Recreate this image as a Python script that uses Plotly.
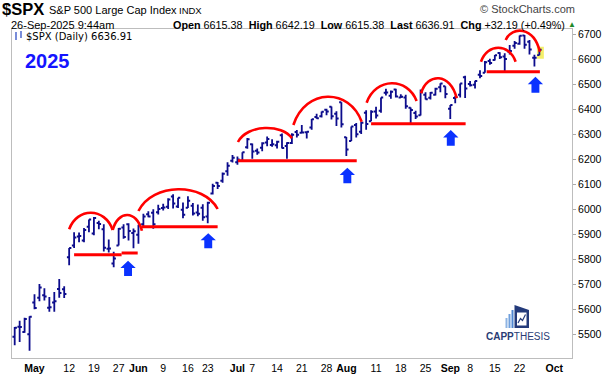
import numpy as np
import plotly.graph_objects as go

# ---------------- data (S&P 500 daily OHLC) ----------------
dates = [
    "2025-04-25", "2025-04-28", "2025-04-29", "2025-04-30",
    "2025-05-01", "2025-05-02", "2025-05-05", "2025-05-06", "2025-05-07", "2025-05-08", "2025-05-09",
    "2025-05-12", "2025-05-13", "2025-05-14", "2025-05-15", "2025-05-16",
    "2025-05-19", "2025-05-20", "2025-05-21", "2025-05-22", "2025-05-23",
    "2025-05-27", "2025-05-28", "2025-05-29", "2025-05-30",
    "2025-06-02", "2025-06-03", "2025-06-04", "2025-06-05", "2025-06-06",
    "2025-06-09", "2025-06-10", "2025-06-11", "2025-06-12", "2025-06-13",
    "2025-06-16", "2025-06-17", "2025-06-18", "2025-06-20",
    "2025-06-23", "2025-06-24", "2025-06-25", "2025-06-26", "2025-06-27",
    "2025-06-30", "2025-07-01", "2025-07-02", "2025-07-03",
    "2025-07-07", "2025-07-08", "2025-07-09", "2025-07-10", "2025-07-11",
    "2025-07-14", "2025-07-15", "2025-07-16", "2025-07-17", "2025-07-18",
    "2025-07-21", "2025-07-22", "2025-07-23", "2025-07-24", "2025-07-25",
    "2025-07-28", "2025-07-29", "2025-07-30", "2025-07-31", "2025-08-01",
    "2025-08-04", "2025-08-05", "2025-08-06", "2025-08-07", "2025-08-08",
    "2025-08-11", "2025-08-12", "2025-08-13", "2025-08-14", "2025-08-15",
    "2025-08-18", "2025-08-19", "2025-08-20", "2025-08-21", "2025-08-22",
    "2025-08-25", "2025-08-26", "2025-08-27", "2025-08-28", "2025-08-29",
    "2025-09-02", "2025-09-03", "2025-09-04", "2025-09-05",
    "2025-09-08", "2025-09-09", "2025-09-10", "2025-09-11", "2025-09-12",
    "2025-09-15", "2025-09-16", "2025-09-17", "2025-09-18", "2025-09-19",
    "2025-09-22", "2025-09-23", "2025-09-24", "2025-09-25", "2025-09-26",
]
opens = [
    5489, 5529, 5508, 5499,
    5626, 5645, 5655, 5605, 5626, 5680, 5679,
    5807, 5854, 5890, 5874, 5929,
    5902, 5944, 5919, 5841, 5782,
    5854, 5926, 5939, 5904,
    5897, 5939, 5979, 5985, 5987,
    6004, 6009, 6050, 6010, 5997,
    6005, 6013, 5986, 6005,
    5970, 6062, 6105, 6113, 6151,
    6193, 6187, 6193, 6247,
    6259, 6233, 6245, 6266, 6256,
    6255, 6295, 6252, 6264, 6308,
    6305, 6307, 6326, 6368, 6371,
    6397, 6409, 6381, 6427, 6287,
    6272, 6336, 6309, 6385, 6351,
    6390, 6393, 6465, 6453, 6478,
    6446, 6446, 6405, 6384, 6375,
    6457, 6445, 6457, 6487, 6491,
    6401, 6444, 6457, 6527,
    6500, 6497, 6537, 6545, 6592,
    6596, 6624, 6610, 6629, 6653,
    6661, 6694, 6669, 6605, 6615.38,
]
highs = [
    5528, 5553, 5565, 5571,
    5659, 5700, 5683, 5648, 5668, 5720, 5691,
    5844, 5907, 5906, 5924, 5958,
    5968, 5953, 5939, 5878, 5829,
    5924, 5939, 5943, 5922,
    5937, 5981, 5991, 5999, 6017,
    6021, 6043, 6059, 6045, 6026,
    6051, 6024, 6018, 6019,
    6029, 6101, 6108, 6146, 6187,
    6216, 6210, 6227, 6284,
    6262, 6242, 6267, 6290, 6279,
    6273, 6302, 6267, 6303, 6316,
    6336, 6310, 6360, 6381, 6390,
    6401, 6410, 6391, 6427, 6288,
    6330, 6344, 6349, 6395, 6395,
    6409, 6446, 6481, 6474, 6481,
    6459, 6457, 6406, 6393, 6478,
    6467, 6468, 6485, 6503, 6491,
    6416, 6452, 6502, 6533,
    6512, 6513, 6555, 6592, 6601,
    6616, 6627, 6623, 6656, 6672,
    6694, 6696, 6676, 6617, 6642.19,
]
lows = [
    5455, 5468, 5505, 5433,
    5599, 5631, 5634, 5589, 5589, 5645, 5644,
    5775, 5844, 5867, 5867, 5907,
    5895, 5919, 5830, 5826, 5767,
    5854, 5881, 5874, 5843,
    5861, 5930, 5967, 5921, 5978,
    5994, 6000, 6002, 6004, 5963,
    6004, 5974, 5971, 5953,
    5943, 6058, 6080, 6105, 6133,
    6186, 6177, 6188, 6241,
    6201, 6217, 6231, 6251, 6249,
    6242, 6242, 6201, 6260, 6286,
    6303, 6282, 6317, 6361, 6366,
    6375, 6358, 6332, 6326, 6212,
    6272, 6286, 6300, 6317, 6351,
    6362, 6385, 6454, 6441, 6446,
    6444, 6401, 6343, 6360, 6374,
    6438, 6438, 6454, 6467, 6443,
    6360, 6423, 6446, 6444,
    6490, 6482, 6523, 6545, 6577,
    6594, 6600, 6551, 6618, 6641,
    6657, 6641, 6618, 6570, 6615.38,
]
closes = [
    5525, 5528, 5560, 5569,
    5604, 5686, 5650, 5607, 5631, 5664, 5660,
    5844, 5886, 5892, 5916, 5958,
    5964, 5940, 5845, 5842, 5802,
    5921, 5888, 5912, 5911,
    5936, 5970, 5970, 5939, 6000,
    6006, 6038, 6022, 6045, 5977,
    6033, 5982, 5981, 5967,
    6025, 6092, 6092, 6141, 6173,
    6205, 6198, 6227, 6279,
    6230, 6226, 6263, 6280, 6259,
    6269, 6244, 6264, 6297, 6297,
    6306, 6309, 6359, 6363, 6389,
    6390, 6371, 6362, 6339, 6238,
    6330, 6299, 6345, 6340, 6389,
    6374, 6446, 6466, 6469, 6450,
    6449, 6411, 6396, 6370, 6467,
    6439, 6465, 6481, 6502, 6460,
    6416, 6448, 6502, 6482,
    6495, 6512, 6532, 6587, 6584,
    6615, 6607, 6600, 6632, 6664,
    6693, 6657, 6638, 6605, 6636.91,
]

holidays = ["2025-05-26", "2025-06-19", "2025-07-04", "2025-09-01"]

tick_dates = ["2025-05-01", "2025-05-12", "2025-05-19", "2025-05-27", "2025-06-02", "2025-06-09",
              "2025-06-16", "2025-06-23", "2025-07-01", "2025-07-07", "2025-07-14", "2025-07-21",
              "2025-07-28", "2025-08-01", "2025-08-11", "2025-08-18", "2025-08-25", "2025-09-02",
              "2025-09-08", "2025-09-15", "2025-09-22", "2025-10-01"]
tick_labels = ["May", "12", "19", "27", "Jun", "9", "16", "23", "Jul", "7", "14", "21", "28",
               "Aug", "11", "18", "25", "Sep", "8", "15", "22", "Oct"]
month_labels = {"May", "Jun", "Jul", "Aug", "Sep", "Oct"}

y_ticks = [5500, 5600, 5700, 5800, 5900, 6000, 6100, 6200, 6300, 6400, 6500, 6600, 6700]

# hand-drawn annotations (trading-day index, price)
arc_starts = [(11.0, 5919), (19.8, 5916), (25.0, 5992), (45.1, 6268), (56.3, 6336),
              (71.1, 6425), (82.1, 6463), (94.2, 6589), (99.2, 6676)]
arc_peaks = [5985, 5976, 6079, 6324, 6449, 6503, 6523, 6645, 6712]
arc_ends = [(19.8, 5916), (25.7, 5913), (41.0, 6000), (56.0, 6283), (70.1, 6349),
            (81.2, 6432), (89.3, 6443), (101.2, 6589), (106.1, 6629)]
support_from = [12.0, 21.6, 25.7, 45.1, 72.0, 95.35]
support_to = [21.6, 24.85, 41.0, 69.1, 91.1, 106.1]
support_level = [5817, 5824, 5929, 6193, 6341, 6549]
arrow_x = [22.9, 39.1, 67.2, 88.1, 105.2]
arrow_top = [5793, 5903, 6165, 6316, 6529]
arrow_bottom = [5732, 5843, 6103, 6253, 6465]

# ---------------- build ----------------
start = dates[0]


def tday(d):
    return int(np.busday_count(start, d, holidays=holidays))


x = [tday(d) for d in dates]
tickvals = [tday(d) for d in tick_dates]
ticktext = [("<b>%s</b>" % t) if t in month_labels else t for t in tick_labels]

W, H = 603, 375
L, R, T, B = 12, 572, 29, 358  # plot area in pixels


def pxx(p):
    return (p - L) / (R - L)


def pxy(p):
    return (B - p) / (B - T)


NAVY = "#0c0c8c"
fig = go.Figure()

fig.add_trace(go.Ohlc(
    x=x, open=opens, high=highs, low=lows, close=closes,
    increasing=dict(line=dict(color=NAVY, width=1.8)),
    decreasing=dict(line=dict(color=NAVY, width=1.8)),
    tickwidth=0.45, hoverinfo="skip", showlegend=False,
))

shapes = []
# current bar highlight
shapes.append(dict(type="rect", xref="x", yref="y", x0=x[-1] - 0.5, x1=x[-1] + 0.9,
                   y0=6601, y1=6649, fillcolor="#f4ef6a", line=dict(width=0), layer="below"))

# arcs
for (x0, y0), yp, (x1, y1) in zip(arc_starts, arc_peaks, arc_ends):
    w = x1 - x0
    yc = (8 * yp - y0 - y1) / 6.0
    path = "M %.3f,%.3f C %.3f,%.3f %.3f,%.3f %.3f,%.3f" % (
        x0, y0, x0 + 0.18 * w, yc, x1 - 0.18 * w, yc, x1, y1)
    shapes.append(dict(type="path", xref="x", yref="y", path=path,
                       line=dict(color="#ff0000", width=2.6)))

# support lines
for a, b, lv in zip(support_from, support_to, support_level):
    shapes.append(dict(type="line", xref="x", yref="y", x0=a, x1=b, y0=lv, y1=lv,
                       line=dict(color="#ff0000", width=3)))

# arrows
hw, sw = 1.55, 0.8
for xc, yt, yb in zip(arrow_x, arrow_top, arrow_bottom):
    yh = yt - 0.47 * (yt - yb)
    path = ("M %.3f,%.3f L %.3f,%.3f L %.3f,%.3f L %.3f,%.3f L %.3f,%.3f L %.3f,%.3f L %.3f,%.3f Z" %
            (xc, yt, xc + hw, yh, xc + sw, yh, xc + sw, yb, xc - sw, yb, xc - sw, yh, xc - hw, yh))
    shapes.append(dict(type="path", xref="x", yref="y", path=path,
                       fillcolor="#0a32ff", line=dict(width=0)))

# legend icon (small bar glyph)
for xa, ya, yb2 in [(16, 32, 40), (21, 31, 38)]:
    shapes.append(dict(type="line", xref="paper", yref="paper", x0=pxx(xa), x1=pxx(xa),
                       y0=pxy(ya), y1=pxy(yb2), line=dict(color="#2040c0", width=1.2)))

# CAPPTHESIS logo icon
for x0, x1, y0, y1, c in [(505.5, 507.5, 318, 328, "#8fb4e3"), (508.5, 510.5, 314, 328, "#6f9fdc"),
                          (511.5, 513.5, 310, 328, "#4f86d0")]:
    shapes.append(dict(type="rect", xref="paper", yref="paper", x0=pxx(x0), x1=pxx(x1),
                       y0=pxy(y1), y1=pxy(y0), fillcolor=c, line=dict(width=0)))
shapes.append(dict(type="path", xref="paper", yref="paper",
                   path="M %f,%f L %f,%f L %f,%f L %f,%f Z" % (
                       pxx(514.5), pxy(328), pxx(514.5), pxy(305), pxx(529), pxy(310), pxx(529), pxy(328)),
                   fillcolor="#233a7a", line=dict(width=0)))
shapes.append(dict(type="rect", xref="paper", yref="paper", x0=pxx(517), x1=pxx(526.5),
                   y0=pxy(325.5), y1=pxy(312.5), fillcolor="white", line=dict(width=0)))
shapes.append(dict(type="path", xref="paper", yref="paper",
                   path="M %f,%f L %f,%f L %f,%f L %f,%f" % (
                       pxx(518), pxy(323), pxx(520.5), pxy(318.5), pxx(522.5), pxy(320.5), pxx(525.5), pxy(314.5)),
                   line=dict(color="#233a7a", width=1.2)))

ann = []
AR = "Liberation Sans, Arial, sans-serif"


def text(t, xp, yp, size, color="black", xanchor="left", family=AR):
    ann.append(dict(text=t, x=pxx(xp), y=pxy(yp), xref="paper", yref="paper",
                    xanchor=xanchor, yanchor="middle", showarrow=False, borderpad=0,
                    font=dict(family=family, size=size, color=color)))


text("<b>$SPX</b>", 1, 9, 16.5)
text("S&P 500 Large Cap Index", 48, 10, 11)
text("INDX", 178, 10.5, 9.5)
text("© StockCharts.com", 576, 9, 11, color="#444444", xanchor="right")
text("26-Sep-2025 9:44am", 10, 25, 11)
text("<b>Open</b> 6615.38  <b>High</b> 6642.19  <b>Low</b> 6615.38  <b>Last</b> 6636.91  "
     "<b>Chg</b> +32.19 (+0.49%)", 566, 25, 10.8, xanchor="right")
text("▲", 567, 24.5, 8, color="#1f8a2a")
text("$SPX (Daily) 6636.91", 25, 36.5, 10, family="DejaVu Sans, Verdana, sans-serif")
text("<b>2025</b>", 24, 61, 20, color="#1414ff")
text("<b>CAPP</b>THESIS", 518, 336.5, 10, color="#2a3c75", xanchor="center")

fig.update_layout(
    width=W, height=H,
    margin=dict(l=L, r=W - R, t=T, b=H - B, pad=0, autoexpand=False),
    paper_bgcolor="white", plot_bgcolor="white",
    showlegend=False,
    shapes=shapes, annotations=ann,
    xaxis=dict(range=[-0.545, 112.59], tickvals=tickvals, ticktext=ticktext,
               showgrid=False, zeroline=False, rangeslider=dict(visible=False),
               showline=True, mirror=True, linecolor="#bdbdbd", linewidth=1,
               ticks="", tickfont=dict(family=AR, size=10.5, color="black"),
               fixedrange=True, automargin=False),
    yaxis=dict(range=[5404, 6720], side="right", tickvals=y_ticks,
               ticktext=[str(v) for v in y_ticks],
               showgrid=False, zeroline=False,
               showline=True, mirror=True, linecolor="#bdbdbd", linewidth=1,
               ticks="outside", ticklen=3, tickcolor="#aaaaaa",
               tickfont=dict(family=AR, size=10.5, color="black"),
               fixedrange=True, automargin=False),
)

fig.write_html("out.html", config={"displayModeBar": False},
               post_script="document.body.style.margin='0';document.body.style.overflow='hidden';")
